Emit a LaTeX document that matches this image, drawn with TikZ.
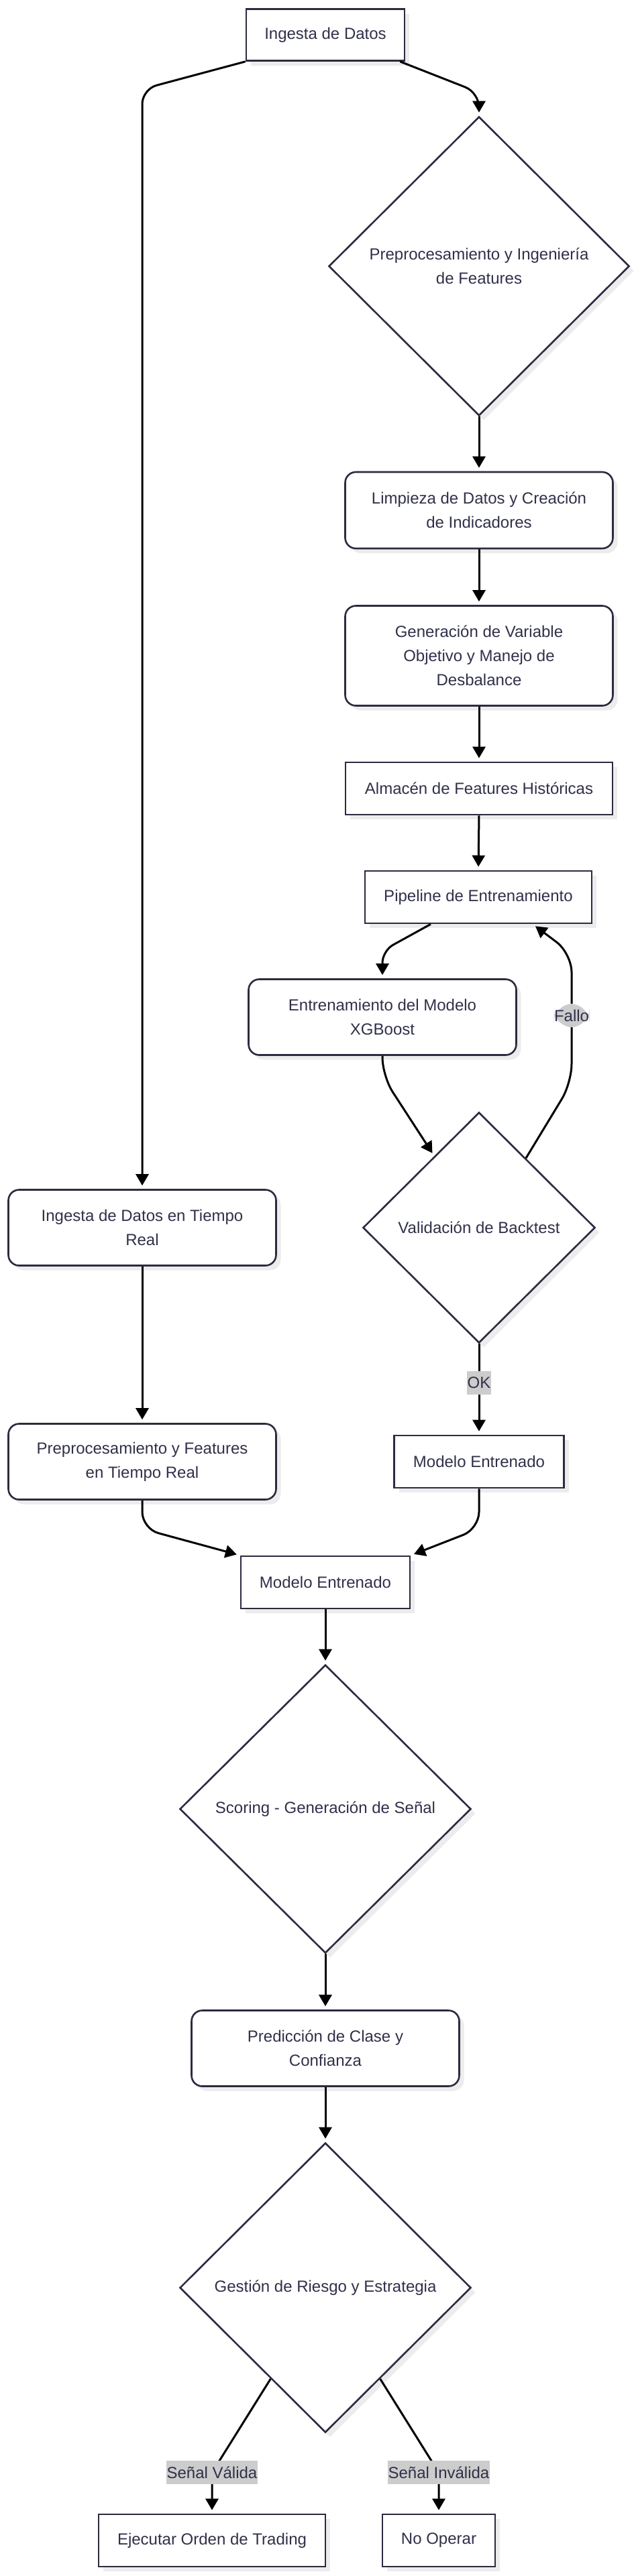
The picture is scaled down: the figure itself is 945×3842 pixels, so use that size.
\documentclass[tikz,border=0pt]{standalone}
\usepackage{fontspec}
\setmainfont{Liberation Sans}
\usetikzlibrary{arrows.meta,shapes.geometric,shadows}
\definecolor{bordercol}{HTML}{2B2B40}
\definecolor{txtcol}{HTML}{30304A}
\definecolor{lblgray}{HTML}{CCCCCC}
\definecolor{shadowcol}{HTML}{ECECEC}
\begin{document}
\begin{tikzpicture}[x=1pt,y=-1pt,
  base/.style={draw=bordercol, line width=2.6pt, fill=white, text=txtcol, align=center, inner sep=0pt,
    font=\fontsize{24}{36}\selectfont,
    drop shadow={shadow xshift=7pt, shadow yshift=-7pt, fill=shadowcol, opacity=1}},
  sqbox/.style={base, rectangle},
  rbox/.style={base, rectangle, rounded corners=16pt},
  dbox/.style={base, diamond, aspect=1},
  arr/.style={-{Triangle[length=17pt,width=19pt]}, line width=3pt, black, shorten >=5pt, line join=round},
  lbl/.style={fill=lblgray, text=txtcol, inner xsep=0.5pt, inner ysep=0pt, minimum height=35pt,
    font=\fontsize{24}{36}\selectfont}
]
\fill[white] (0,0) rectangle (945,3842);
\useasboundingbox (0,0) rectangle (945,3842);

% nodes
\node[sqbox, minimum width=236pt, minimum height=77pt] (n1) at (485,52) {Ingesta de Datos};
\node[dbox, minimum width=448pt, minimum height=446pt] (d1) at (714,397) {Preprocesamiento y Ingeniería\\de Features};
\node[rbox, minimum width=399pt, minimum height=114pt] (limp) at (714,761) {Limpieza de Datos y Creación\\de Indicadores};
\node[rbox, minimum width=399pt, minimum height=149pt] (gen) at (714,978) {Generación de Variable\\Objetivo y Manejo de\\Desbalance};
\node[sqbox, minimum width=398pt, minimum height=78pt] (alm) at (714,1176) {Almacén de Features Históricas};
\node[sqbox, minimum width=338pt, minimum height=78pt] (pipe) at (713,1338) {Pipeline de Entrenamiento};
\node[rbox, minimum width=399pt, minimum height=113pt] (xgb) at (570,1517) {Entrenamiento del Modelo\\XGBoost};
\node[dbox, minimum width=346pt, minimum height=344pt] (val) at (714,1831) {Validación de Backtest};
\node[rbox, minimum width=399pt, minimum height=113pt] (irt) at (212,1831) {Ingesta de Datos en Tiempo\\Real};
\node[sqbox, minimum width=253pt, minimum height=78pt] (mer) at (714,2180) {Modelo Entrenado};
\node[rbox, minimum width=399pt, minimum height=113pt] (prt) at (212,2180) {Preprocesamiento y Features\\en Tiempo Real};
\node[sqbox, minimum width=252pt, minimum height=78pt] (mec) at (485,2360) {Modelo Entrenado};
\node[dbox, minimum width=434pt, minimum height=430pt] (sco) at (485,2698) {Scoring - Generación de Señal};
\node[rbox, minimum width=399pt, minimum height=113pt] (pred) at (485,3055) {Predicción de Clase y\\Confianza};
\node[dbox, minimum width=434pt, minimum height=432pt] (gest) at (485,3412) {Gestión de Riesgo y Estrategia};
\node[sqbox, minimum width=338pt, minimum height=78pt] (ejec) at (316,3789) {Ejecutar Orden de Trading};
\node[sqbox, minimum width=168pt, minimum height=78pt] (noop) at (654,3789) {No Operar};

% connectors
\draw[arr, rounded corners=22pt] (n1.south west) -- (212,133) -- (irt.north);
\draw[arr, rounded corners=22pt] ([xshift=-8pt]n1.south east) -- (714,138) -- (d1.north);
\draw[arr] (d1.south) -- (limp.north);
\draw[arr] (limp.south) -- (gen.north);
\draw[arr] (gen.south) -- (alm.north);
\draw[arr] (alm.south) -- (pipe.north);
\draw[arr, rounded corners=18pt] ([xshift=-71pt]pipe.south) -- (570,1418) -- (xgb.north);
\draw[arr, rounded corners=28pt] (xgb.south) -- (570,1605) -- (val.122);
\draw[arr, rounded corners=28pt] (val.56) -- (852,1615) -- node[lbl, pos=0.52] {Fallo} (852,1422) -- ([xshift=81pt]pipe.south);
\draw[arr] (val.south) -- node[lbl, pos=0.43] {OK} (mer.north);
\draw[arr] (irt.south) -- (prt.north);
\draw[arr, rounded corners=25pt] (prt.south) -- (212,2280) -- (mec.north west);
\draw[arr, rounded corners=25pt] (mer.south) -- (714,2280) -- (mec.north east);
\draw[arr] (mec.south) -- (sco.north);
\draw[arr] (sco.south) -- (pred.north);
\draw[arr] (pred.south) -- (gest.north);
\draw[arr] (gest.239) -- ([yshift=61pt]ejec.north) node[lbl] {Señal Válida} -- (ejec.north);
\draw[arr] (gest.301) -- ([yshift=61pt]noop.north) node[lbl] {Señal Inválida} -- (noop.north);
\end{tikzpicture}
\end{document}
